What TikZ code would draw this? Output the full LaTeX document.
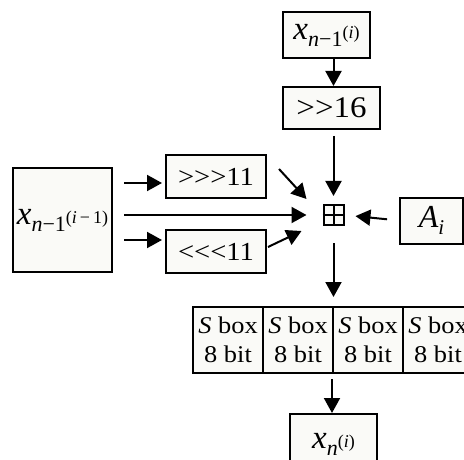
\documentclass[tikz,border=0pt]{standalone}
\usepackage{fontspec}
\setmainfont{Liberation Serif}
\usepackage{graphicx}
\usetikzlibrary{arrows.meta}
\newcommand\hs[1]{\scalebox{1.1}[1]{#1}}
\newcommand\xsym[2]{\fontsize{33}{33}\selectfont\textit{x}\raisebox{-7pt}{\fontsize{22}{22}\selectfont #1}\raisebox{1pt}{\fontsize{18}{18}\selectfont #2}}
\definecolor{boxfill}{RGB}{250,250,247}
\begin{document}
\begin{tikzpicture}[x=1pt,y=-1pt,line width=2pt,
  box/.style={draw,fill=boxfill,inner sep=0pt,align=center},
  sbox/.style={box,minimum width=70pt,minimum height=66pt,font=\fontsize{24}{29}\selectfont},
  arr/.style={-{Triangle[length=15pt,width=16pt]}}]
\useasboundingbox (0,0) rectangle (464,460);
\clip (0,0) rectangle (464,460);
% nodes
\node[box,minimum width=87pt,minimum height=46pt] (T) at (326.5,35) {\xsym{\textit{n}−1}{(\textit{i})}};
\node[box,minimum width=97pt,minimum height=42pt,font=\fontsize{30}{30}\selectfont] (S16) at (331.5,108) {\hs{>\kern0pt>16}};
\node[box,minimum width=99pt,minimum height=104pt] (L) at (62.5,220) {\xsym{\textit{n}−1}{(\textit{i}\,−\,1)}};
\node[box,minimum width=100pt,minimum height=43pt,font=\fontsize{26}{26}\selectfont] (G) at (216,176.5) {\hs{>\kern0pt>\kern0pt>11}};
\node[box,minimum width=100pt,minimum height=43pt,font=\fontsize{26}{26}\selectfont] (H) at (216,251.5) {\hs{<\kern0pt<\kern0pt<11}};
\node[box,minimum width=63pt,minimum height=46pt] (A) at (431.5,220.5) {\fontsize{32}{32}\selectfont\textit{A}\raisebox{-7pt}{\fontsize{21}{21}\selectfont\textit{i}}};
\node[draw,fill=boxfill,minimum size=20pt,inner sep=0pt] (P) at (333.5,215) {};
\draw (P.north) -- (P.south) (P.west) -- (P.east);
\node[sbox] (S1) at (228,340) {\hs{\textit{S} box}\\\hs{8 bit}};
\node[sbox] (S2) at (298,340) {\hs{\textit{S} box}\\\hs{8 bit}};
\node[sbox] (S3) at (368,340) {\hs{\textit{S} box}\\\hs{8 bit}};
\node[sbox] (S4) at (438,340) {\hs{\textit{S} box}\\\hs{8 bit}};
\node[box,minimum width=87pt,minimum height=60pt] (B) at (333.5,444) {\raisebox{4pt}{\xsym{\textit{n}}{(\textit{i})}}};
% connectors
\coordinate (g1) at ([yshift=-6.5pt]G.west);
\coordinate (h1) at ([yshift=11.5pt]H.west);
\draw[arr] (T.south -| P) -- (S16.north -| P);
\draw[arr,shorten <=6pt,shorten >=8pt] (S16.south -| P) -- (P.north);
\draw[arr,shorten <=11pt,shorten >=3pt] (L.east |- g1) -- (g1);
\draw[arr,shorten <=11pt,shorten >=16pt] (L.east |- P.west) -- (P.west);
\draw[arr,shorten <=11pt,shorten >=3pt] (L.east |- h1) -- (h1);
\draw[arr] ([shift={(12,15)}]G.north east) -- ([shift={(-16,-5)}]P.north west);
\draw[arr] ([shift={(1,-4.5)}]H.east) -- ([shift={(-21,5)}]P.south west);
\draw[arr,shorten <=12pt,shorten >=11pt] (A.west) -- (P.east);
\draw[arr,shorten <=17pt,shorten >=9pt] (P.south) -- (P.south |- S3.north west);
\draw[arr,shorten <=5pt] (S3.south west) -- (S3.south west |- B.north);
\end{tikzpicture}
\end{document}
